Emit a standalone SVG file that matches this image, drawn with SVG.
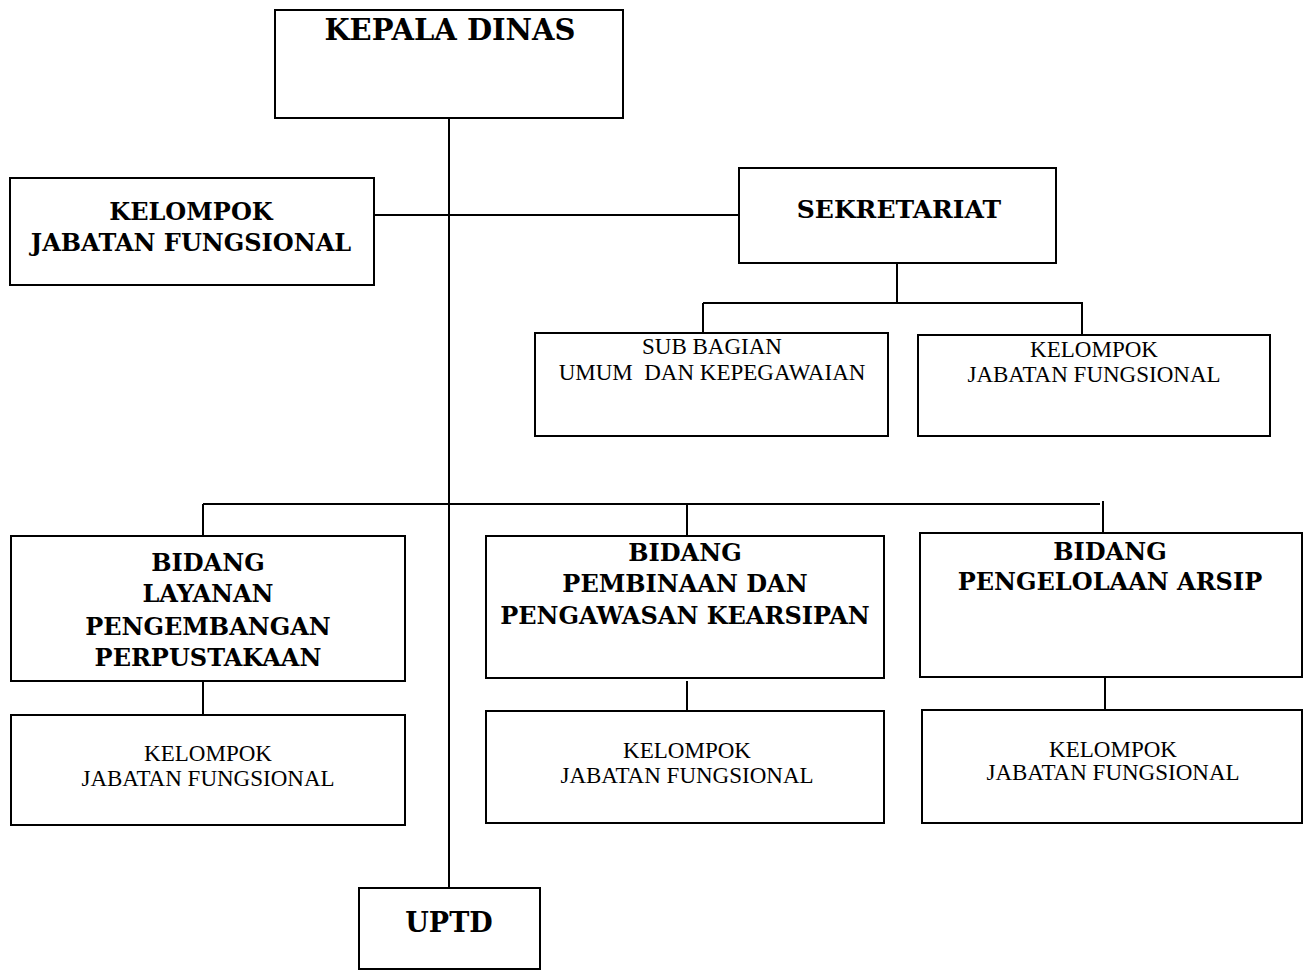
<svg xmlns="http://www.w3.org/2000/svg" width="1310" height="970" viewBox="0 0 1310 970">
<style>
rect{fill:#fff;stroke:#000;stroke-width:2}
.c line{stroke:#000;stroke-width:2}
.b{font-family:"DejaVu Serif","Liberation Serif",serif;font-weight:bold;font-size:24px;text-anchor:middle}
.n{font-family:"Liberation Serif",serif;font-size:23px;text-anchor:middle}
</style>
<rect x="0" y="0" width="1310" height="970" style="stroke:none"/>
<g class="c" id="connectors">
<line x1="449" y1="118" x2="449" y2="888"/>
<line x1="374" y1="215" x2="739" y2="215"/>
<line x1="897" y1="263" x2="897" y2="303"/>
<line x1="703" y1="303" x2="1082" y2="303"/>
<line x1="703" y1="303" x2="703" y2="334"/>
<line x1="1082" y1="302" x2="1082" y2="334"/>
<line x1="203" y1="504" x2="1100" y2="504"/>
<line x1="203" y1="504" x2="203" y2="536"/>
<line x1="687" y1="504" x2="687" y2="536"/>
<line x1="1103" y1="501" x2="1103" y2="533"/>
<line x1="203" y1="681" x2="203" y2="715"/>
<line x1="687" y1="681" x2="687" y2="711"/>
<line x1="1105" y1="677" x2="1105" y2="710"/>
</g>
<g id="kepala"><rect x="275" y="10" width="348" height="108"/><text class="b" x="450" y="40" style="font-size:29px">KEPALA DINAS</text></g>
<g id="jf-top"><rect x="10" y="178" width="364" height="107"/><text class="b" x="191" y="220">KELOMPOK</text><text class="b" x="191" y="251">JABATAN FUNGSIONAL</text></g>
<g id="sekretariat"><rect x="739" y="168" width="317" height="95"/><text class="b" x="899" y="218" style="font-size:25px">SEKRETARIAT</text></g>
<g id="subbag"><rect x="535" y="333" width="353" height="103"/><text class="n" x="712" y="354">SUB BAGIAN</text><text class="n" x="712" y="380" xml:space="preserve">UMUM  DAN KEPEGAWAIAN</text></g>
<g id="jf-sek"><rect x="918" y="335" width="352" height="101"/><text class="n" x="1094" y="357">KELOMPOK</text><text class="n" x="1094" y="382">JABATAN FUNGSIONAL</text></g>
<g id="bidang1"><rect x="11" y="536" width="394" height="145"/><text class="b" x="208" y="571">BIDANG</text><text class="b" x="208" y="602">LAYANAN</text><text class="b" x="208" y="635">PENGEMBANGAN</text><text class="b" x="208" y="666">PERPUSTAKAAN</text></g>
<g id="jf1"><rect x="11" y="715" width="394" height="110"/><text class="n" x="208" y="761">KELOMPOK</text><text class="n" x="208" y="786">JABATAN FUNGSIONAL</text></g>
<g id="bidang2"><rect x="486" y="536" width="398" height="142"/><text class="b" x="685" y="561">BIDANG</text><text class="b" x="685" y="592">PEMBINAAN DAN</text><text class="b" x="685" y="624">PENGAWASAN KEARSIPAN</text></g>
<g id="jf2"><rect x="486" y="711" width="398" height="112"/><text class="n" x="687" y="758">KELOMPOK</text><text class="n" x="687" y="783">JABATAN FUNGSIONAL</text></g>
<g id="bidang3"><rect x="920" y="533" width="382" height="144"/><text class="b" x="1110" y="560">BIDANG</text><text class="b" x="1110" y="590">PENGELOLAAN ARSIP</text></g>
<g id="jf3"><rect x="922" y="710" width="380" height="113"/><text class="n" x="1113" y="757">KELOMPOK</text><text class="n" x="1113" y="780">JABATAN FUNGSIONAL</text></g>
<g id="uptd"><rect x="359" y="888" width="181" height="81"/><text class="b" x="449" y="932" style="font-size:27px">UPTD</text></g>
</svg>
